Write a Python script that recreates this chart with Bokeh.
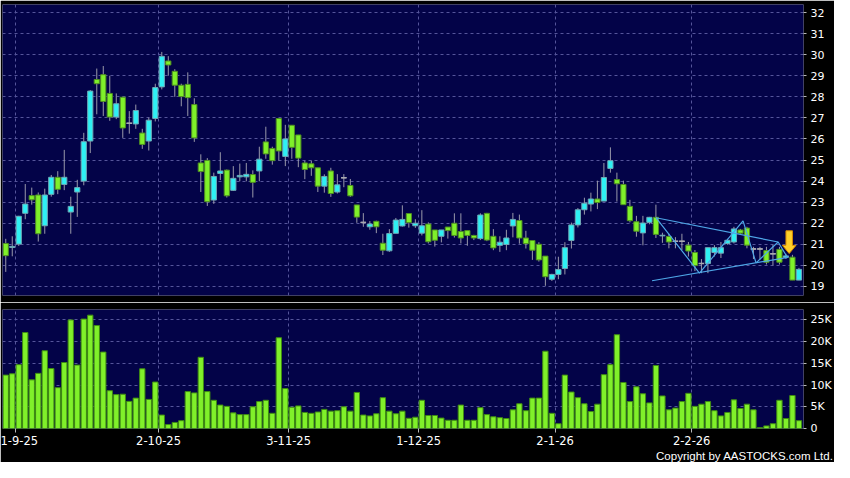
from bokeh.plotting import figure
from bokeh.layouts import column
from bokeh.models import ColumnDataSource, FixedTicker, Range1d, Title
from bokeh.embed import file_html
from bokeh.resources import INLINE

# ---------------- data ----------------
opens = [21.04, 20.85, 21.01, 22.47, 23.31, 23.34, 21.88, 23.37, 24.18, 23.84,
         22.53, 23.48, 24.00, 25.90, 28.82, 29.05, 28.16, 27.04, 27.98, 26.74,
         26.71, 26.28, 25.90, 26.97, 28.47, 29.70, 29.21, 28.55, 28.59, 27.63,
         24.86, 24.98, 23.10, 24.36, 24.52, 23.56, 24.20, 24.20, 24.31, 24.48,
         25.86, 25.55, 26.97, 25.17, 26.65, 26.19, 24.86, 24.82, 24.63, 23.76,
         24.48, 23.48, 24.16, 23.79, 22.87, 22.04, 21.83, 22.09, 21.05, 20.69,
         21.52, 21.87, 22.46, 21.88, 21.53, 21.96, 21.68, 21.38, 21.82, 22.00,
         21.61, 21.65, 21.42, 21.27, 22.47, 21.38, 20.95, 20.99, 21.87, 22.13,
         21.30, 21.18, 21.00, 20.44, 19.34, 19.57, 19.85, 21.18, 21.92, 22.64,
         22.91, 23.15, 23.05, 24.60, 24.07, 23.84, 22.80, 22.07, 21.54, 22.04,
         22.28, 21.40, 21.37, 21.14, 21.14, 20.96, 20.61, 20.09, 20.09, 20.61,
         20.58, 21.04, 21.11, 21.68, 21.77, 20.78, 20.78, 20.70, 20.55, 20.76,
         20.38, 20.39, 19.30]
highs = [21.26, 21.38, 22.35, 23.86, 23.69, 23.46, 23.64, 24.29, 24.47, 25.48,
         23.26, 24.06, 26.29, 28.32, 29.34, 29.46, 29.00, 28.16, 28.00, 27.32,
         27.63, 26.48, 27.01, 28.62, 30.13, 29.93, 29.31, 28.62, 29.16, 27.93,
         25.27, 25.09, 24.40, 25.37, 24.55, 24.71, 24.83, 24.86, 24.51, 25.63,
         26.58, 25.63, 26.97, 26.67, 26.65, 26.19, 24.97, 24.97, 24.63, 24.32,
         24.63, 24.33, 24.33, 24.10, 22.87, 22.48, 22.10, 22.12, 21.50, 21.72,
         22.25, 22.85, 22.48, 22.19, 22.62, 22.04, 21.68, 21.68, 21.82, 22.47,
         22.47, 21.65, 21.45, 22.47, 22.49, 21.72, 21.38, 21.69, 22.49, 22.41,
         21.64, 21.18, 21.10, 20.44, 19.60, 20.41, 21.10, 22.03, 22.72, 23.21,
         23.45, 24.02, 24.86, 25.60, 24.40, 24.02, 23.11, 22.35, 22.35, 22.30,
         22.88, 21.55, 21.50, 21.34, 21.50, 21.11, 20.73, 20.30, 20.84, 20.96,
         21.11, 21.26, 21.83, 21.73, 21.83, 20.88, 20.88, 20.88, 20.98, 20.88,
         20.55, 20.50, 19.88]
lows = [19.69, 20.43, 20.92, 22.19, 22.88, 21.13, 21.50, 23.26, 23.38, 23.57,
        21.50, 22.30, 23.80, 25.33, 27.17, 27.09, 26.86, 26.94, 26.05, 26.25,
        26.48, 25.53, 25.45, 26.83, 28.35, 29.00, 28.00, 27.55, 27.09, 25.86,
        23.48, 22.82, 22.92, 24.05, 23.22, 23.53, 23.99, 23.99, 23.22, 23.99,
        25.06, 24.78, 24.97, 24.71, 25.06, 24.66, 24.09, 24.25, 23.48, 23.45,
        23.25, 23.41, 23.71, 23.25, 22.02, 21.83, 21.69, 21.53, 20.49, 20.64,
        21.52, 21.84, 21.79, 21.78, 21.42, 21.04, 20.89, 21.09, 21.27, 21.32,
        21.04, 20.93, 21.20, 21.20, 21.15, 20.72, 20.64, 20.72, 21.33, 21.03,
        20.80, 20.26, 20.18, 19.03, 19.26, 19.34, 19.57, 20.80, 21.80, 22.41,
        22.56, 22.67, 23.05, 24.40, 23.03, 22.88, 22.04, 21.36, 20.95, 21.95,
        21.30, 21.07, 20.81, 20.81, 20.73, 20.42, 19.73, 19.63, 19.63, 20.42,
        20.35, 20.98, 21.04, 21.50, 20.81, 20.30, 20.27, 20.04, 20.00, 20.04,
        20.30, 19.30, 19.30]
closes = [20.46, 20.90, 22.33, 22.91, 23.11, 21.50, 23.34, 24.18, 23.61, 24.18,
          22.80, 23.69, 25.87, 28.27, 28.62, 27.78, 27.04, 27.67, 26.52, 26.74,
          27.35, 25.74, 26.89, 28.44, 29.92, 29.51, 28.55, 28.01, 27.96, 26.05,
          24.45, 23.02, 24.22, 24.48, 23.30, 24.13, 24.27, 24.32, 23.94, 25.04,
          25.29, 24.97, 25.43, 26.00, 25.60, 25.09, 24.55, 24.63, 23.76, 24.22,
          23.41, 23.82, 24.16, 23.30, 22.29, 22.04, 21.96, 21.83, 20.72, 21.51,
          22.15, 22.18, 22.03, 22.00, 21.88, 21.12, 21.19, 21.68, 21.65, 21.42,
          21.30, 21.42, 21.30, 22.39, 21.20, 20.83, 21.10, 21.30, 22.18, 21.30,
          21.03, 20.72, 20.26, 19.46, 19.57, 19.80, 20.84, 21.92, 22.64, 22.95,
          23.15, 22.98, 24.17, 24.97, 23.87, 22.88, 22.12, 21.62, 22.01, 22.28,
          21.47, 21.43, 21.11, 21.14, 21.14, 20.68, 19.99, 20.09, 20.84, 20.84,
          20.84, 21.19, 21.73, 21.53, 20.96, 20.78, 20.78, 20.15, 20.55, 20.15,
          20.45, 19.30, 19.81]
volumes_k = [12.3, 12.6, 14.7, 22.1, 11.2, 12.7, 17.9, 13.8, 9.4, 15.2,
             25.0, 14.6, 25.2, 26.1, 23.7, 17.6, 8.7, 7.8, 7.9, 6.25,
             7.0, 13.75, 6.7, 10.7, 3.1, 0.9, 1.4, 1.8, 8.5, 8.2,
             16.4, 8.5, 6.5, 5.4, 5.1, 3.6, 3.2, 3.2, 5.0, 6.2,
             6.5, 3.5, 20.9, 9.2, 4.9, 5.2, 3.7, 3.5, 3.8, 4.4,
             4.0, 4.1, 5.0, 4.0, 8.3, 3.1, 2.9, 3.4, 7.1, 4.0,
             3.4, 4.0, 2.35, 2.6, 6.5, 3.0, 3.0, 2.4, 1.9, 1.9,
             5.4, 1.9, 1.9, 4.8, 3.2, 2.7, 2.5, 2.3, 4.3, 5.7,
             4.1, 7.0, 7.0, 17.8, 3.5, 1.1, 12.3, 8.4, 7.1, 5.7,
             3.9, 5.6, 12.4, 14.7, 21.6, 10.6, 6.2, 9.6, 8.0, 5.9,
             14.5, 7.5, 4.3, 4.7, 6.2, 8.1, 5.1, 5.6, 6.2, 4.1,
             2.9, 3.7, 6.6, 4.6, 5.6, 4.3, 0.2, 0.6, 1.1, 6.5,
             2.3, 7.6, 1.8]

date_index = [1, 23, 43, 63, 84, 105]
date_labels = ["1-9-25", "2-10-25", "3-11-25", "1-12-25", "2-1-26", "2-2-26"]
price_ticks = [19, 20, 21, 22, 23, 24, 25, 26, 27, 28, 29, 30, 31, 32]
vol_ticks = [0, 5, 10, 15, 20, 25]
vol_labels = ["0", "5K", "10K", "15K", "20K", "25K"]

# pattern lines drawn on the chart
upper_x = [100.0, 118.8]
upper_y = [22.26, 21.11]
lower_x = [99.4, 120.3]
lower_y = [19.27, 20.38]
zig_x = [100.0, 106.7, 113.4, 115.4, 118.8, 120.2]
zig_y = [22.26, 19.63, 22.11, 20.12, 21.11, 20.39]
arrow_x = 120.5
arrow_top = 21.64
arrow_neck = 20.95
arrow_tip = 20.56

# ---------------- styles ----------------
NAVY = "#030348"
UP = "#2ef0f4"
UP_LINE = "#6fa7b5"
DOWN = "#7ff02a"
DOWN_LINE = "#4f8f22"
FLAT = "#a8a8b0"
GRID = "#55559a"
FONT = "DejaVu Sans"

n = len(opens)
xs = list(range(n))
fills, lines, tops, bots = [], [], [], []
for o, c in zip(opens, closes):
    tops.append(max(o, c))
    bots.append(min(o, c))
    if c > o:
        fills.append(UP); lines.append(UP_LINE)
    elif c < o:
        fills.append(DOWN); lines.append(DOWN_LINE)
    else:
        fills.append(FLAT); lines.append(FLAT)

src = ColumnDataSource(dict(x=xs, o=opens, h=highs, l=lows, c=closes,
                            top=tops, bot=bots, fill=fills, line=lines,
                            vol=volumes_k))
doji = ColumnDataSource(dict(
    x0=[i - 0.42 for i in xs if opens[i] == closes[i]],
    x1=[i + 0.42 for i in xs if opens[i] == closes[i]],
    y=[opens[i] for i in xs if opens[i] == closes[i]]))

tick_pos = [d + 0.5 for d in date_index]
xr = Range1d(-0.5, 122.7)


def style_yaxis(ax, ticks, overrides=None):
    ax.ticker = FixedTicker(ticks=ticks)
    ax.axis_line_color = None
    ax.major_tick_line_color = "#b8b8b8"
    ax.major_tick_in = 0
    ax.major_tick_out = 3
    ax.minor_tick_line_color = None
    ax.major_label_text_color = "white"
    ax.major_label_text_font = FONT
    ax.major_label_text_font_size = "11px"
    ax.major_label_standoff = 4
    if overrides:
        ax.major_label_overrides = overrides


# ---------------- price panel ----------------
p = figure(width=834, height=302, x_range=xr, y_range=Range1d(18.57, 32.38),
           output_backend="svg", toolbar_location=None,
           x_axis_location=None, y_axis_location="right",
           background_fill_color=NAVY, border_fill_color="black",
           outline_line_color=None, min_border_left=2, min_border_right=30,
           min_border_top=4, min_border_bottom=7)
style_yaxis(p.yaxis[0], price_ticks)
p.ygrid.ticker = FixedTicker(ticks=price_ticks)
p.xgrid.ticker = FixedTicker(ticks=tick_pos)
for g in (p.xgrid[0], p.ygrid[0]):
    g.grid_line_color = GRID
    g.grid_line_dash = "3 3"
    g.grid_line_width = 1

p.segment(x0="x", y0="l", x1="x", y1="h", source=src, line_color="#9a9aaa", line_width=1)
p.vbar(x="x", width=0.8, top="top", bottom="bot", source=src,
       fill_color="fill", line_color="line", line_width=1)
p.segment(x0="x0", y0="y", x1="x1", y1="y", source=doji, line_color=FLAT, line_width=1.5)

TL = "#4ea6e6"
p.line(upper_x, upper_y, line_color=TL, line_width=1.2)
p.line(lower_x, lower_y, line_color=TL, line_width=1.2)
p.line(zig_x, zig_y, line_color=TL, line_width=1.2)

# yellow down arrow
shaft_hw = 0.5
head_hw = 1.05
p.patch([arrow_x - shaft_hw, arrow_x + shaft_hw, arrow_x + shaft_hw, arrow_x + head_hw,
         arrow_x, arrow_x - head_hw, arrow_x - shaft_hw],
        [arrow_top, arrow_top, arrow_neck, arrow_neck, arrow_tip, arrow_neck, arrow_neck],
        fill_color="#ffd02a", line_color="#d98a00", line_width=1)

# ---------------- volume panel ----------------
v = figure(width=834, height=160, x_range=xr, y_range=Range1d(0, 27.4),
           output_backend="svg", toolbar_location=None, y_axis_location="right",
           background_fill_color=NAVY, border_fill_color="black",
           outline_line_color=None, min_border_left=2, min_border_right=30,
           min_border_top=7, min_border_bottom=0)
style_yaxis(v.yaxis[0], vol_ticks, dict(zip(vol_ticks, vol_labels)))
xa = v.xaxis[0]
xa.ticker = FixedTicker(ticks=tick_pos)
xa.major_label_overrides = dict(zip(tick_pos, date_labels))
xa.axis_line_color = None
xa.major_tick_line_color = "#b8b8b8"
xa.major_tick_in = 0
xa.major_tick_out = 4
xa.minor_tick_line_color = None
xa.major_label_text_color = "white"
xa.major_label_text_font = FONT
xa.major_label_text_font_size = "11.5px"
xa.major_label_standoff = 3
v.ygrid.ticker = FixedTicker(ticks=vol_ticks[1:])
v.xgrid.ticker = FixedTicker(ticks=tick_pos)
for g in (v.xgrid[0], v.ygrid[0]):
    g.grid_line_color = GRID
    g.grid_line_dash = "3 3"
    g.grid_line_width = 1

v.vbar(x="x", width=0.82, top="vol", bottom=0, source=src,
       fill_color="#80f02a", line_color="#3f8c12", line_width=1)

v.add_layout(Title(text="Copyright by AASTOCKS.com Ltd.", align="right",
                   text_color="white", text_font="Liberation Sans",
                   text_font_size="11.5px", text_font_style="normal",
                   standoff=1, offset=-30), "below")

layout = column(p, v, spacing=0)
open("out.html", "w").write(file_html(layout, INLINE))
